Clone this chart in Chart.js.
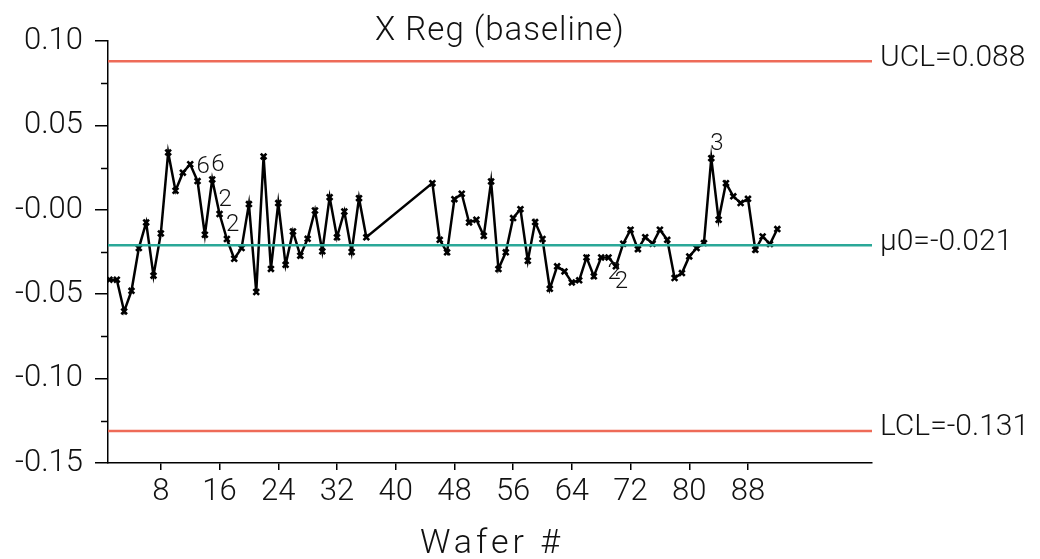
<!DOCTYPE html>
<html>
<head>
<meta charset="utf-8">
<script src="https://cdn.jsdelivr.net/npm/chart.js@4.4.1/dist/chart.umd.min.js"></script>
<style>
  html, body { margin: 0; padding: 0; background: #fff; }
  #wrap { width: 1040px; height: 559px; }
</style>
</head>
<body>
<div id="wrap"><canvas id="chart" width="1040" height="559"></canvas></div>
<script>
// wafer numbers (37-44 are missing in the run)
const wafers = [
  1, 2, 3, 4, 5, 6, 7, 8, 9, 10, 11, 12, 13, 14, 15, 16, 17, 18,
  19, 20, 21, 22, 23, 24, 25, 26, 27, 28, 29, 30, 31, 32, 33, 34, 35, 36,
  45, 46, 47, 48, 49, 50, 51, 52, 53, 54, 55, 56, 57, 58, 59, 60,
  61, 62, 63, 64, 65, 66, 67, 68, 69, 70, 71, 72, 73, 74, 75, 76,
  77, 78, 79, 80, 81, 82, 83, 84, 85, 86, 87, 88, 89, 90, 91, 92
];

// individual measurement per wafer
const xReg = [
  -0.0414, -0.0414, -0.0602, -0.0480, -0.0227, -0.0075, -0.0390, -0.0140, 0.0340, 0.0113,
  0.0220, 0.0270, 0.0170, -0.0148, 0.0180, -0.0025, -0.0173, -0.0290, -0.0227, 0.0034,
  -0.0487, 0.0316, -0.0350, 0.0040, -0.0326, -0.0128, -0.0272, -0.0172, -0.0004, -0.0246,
  0.0075, -0.0163, -0.0010, -0.0250, 0.0069, -0.0163,
  0.0158, -0.0178, -0.0252, 0.0063, 0.0095, -0.0075, -0.0059, -0.0154, 0.0168, -0.0351,
  -0.0252, -0.0049, 0.0004, -0.0302, -0.0073, -0.0173, -0.0468, -0.0335, -0.0365, -0.0430,
  -0.0418, -0.0282, -0.0394, -0.0282, -0.0282, -0.0335, -0.0201, -0.0118, -0.0233, -0.0162,
  -0.0201, -0.0118, -0.0178, -0.0404, -0.0375, -0.0276, -0.0227, -0.0197, 0.0306, -0.0059,
  0.0158, 0.0080, 0.0040, 0.0065, -0.0237, -0.0158, -0.0203, -0.0114
];

// control limits
const ucl = 0.088;
const centerLine = -0.021;
const lcl = -0.131;
const limitValues = [ucl, centerLine, lcl];
const limitLabels = ['UCL=0.088', 'μ0=-0.021', 'LCL=-0.131'];

// flagged tests (wafer -> test number)
const testWafers = [13, 15, 16, 17, 69, 70, 83];
const testCodes = ['6', '6', '2', '2', '2', '2', '3'];

// axis ticks
const xTicks = [8, 16, 24, 32, 40, 48, 56, 64, 72, 80, 88];
const yTicks = [0.10, 0.05, 0, -0.05, -0.10, -0.15];
const yTickLabels = ['0.10', '0.05', '-0.00', '-0.05', '-0.10', '-0.15'];
const yMinorTicks = [0.075, 0.025, -0.025, -0.075, -0.125];

const xMin = 0.8, xMax = 104.9;
const yMin = -0.15, yMax = 0.10;

const FONT = 'Roboto, "Liberation Sans", sans-serif';
const RED = '#ee6b58';
const TEAL = '#2aa898';

function limitLine(v) {
  return [{ x: xMin, y: v }, { x: xMax, y: v }];
}

const points = wafers.map((w, i) => ({ x: w, y: xReg[i] }));

// draws titles, minor ticks, limit labels and test flags
const overlay = {
  id: 'overlay',
  afterDraw(chart) {
    const ctx = chart.ctx;
    const xs = chart.scales.x, ys = chart.scales.y;
    const area = chart.chartArea;
    ctx.save();

    ctx.fillStyle = '#111';
    ctx.textAlign = 'center';
    ctx.textBaseline = 'alphabetic';

    // chart title
    ctx.font = '300 33px ' + FONT;
    ctx.letterSpacing = '1px';
    ctx.fillText('X Reg (baseline)', 500, 40);

    // x axis title
    ctx.font = '300 34px ' + FONT;
    ctx.letterSpacing = '4px';
    ctx.fillText('Wafer #', 492, 553);
    ctx.letterSpacing = '0px';

    // minor y ticks
    ctx.strokeStyle = '#000';
    ctx.lineWidth = 1.5;
    yMinorTicks.forEach(v => {
      const py = Math.round(ys.getPixelForValue(v)) + 0.5;
      ctx.beginPath();
      ctx.moveTo(area.left - 7, py);
      ctx.lineTo(area.left, py);
      ctx.stroke();
    });

    // limit labels
    ctx.font = '300 30px ' + FONT;
    ctx.textAlign = 'left';
    ctx.textBaseline = 'middle';
    limitValues.forEach((v, i) => {
      ctx.fillText(limitLabels[i], area.right + 8, ys.getPixelForValue(v) - 3);
    });

    // test flags
    ctx.font = '300 24px ' + FONT;
    testWafers.forEach((w, i) => {
      const val = xReg[wafers.indexOf(w)];
      const px = xs.getPixelForValue(w);
      const py = ys.getPixelForValue(val);
      const dy = val > centerLine ? -14 : 16;
      ctx.fillText(testCodes[i], px - 1, py + dy);
    });

    ctx.restore();
  }
};

const ctx = document.getElementById('chart').getContext('2d');
new Chart(ctx, {
  type: 'line',
  data: {
    datasets: [
      {
        data: limitLine(ucl),
        borderColor: RED, borderWidth: 2.5, pointRadius: 0
      },
      {
        data: limitLine(lcl),
        borderColor: RED, borderWidth: 2.5, pointRadius: 0
      },
      {
        data: limitLine(centerLine),
        borderColor: TEAL, borderWidth: 2.5, pointRadius: 0
      },
      {
        data: points,
        borderColor: '#000',
        borderWidth: 2.5,
        tension: 0,
        pointStyle: 'crossRot',
        pointRadius: 4,
        pointBorderWidth: 2.6,
        pointBorderColor: '#000',
        pointBackgroundColor: '#000'
      }
    ]
  },
  options: {
    responsive: false,
    animation: false,
    devicePixelRatio: 1,
    layout: { padding: { left: 0, right: 168, top: 41, bottom: 0 } },
    plugins: {
      legend: { display: false },
      title: { display: false },
      tooltip: { enabled: false }
    },
    scales: {
      x: {
        type: 'linear',
        min: xMin,
        max: xMax,
        afterBuildTicks: s => { s.ticks = xTicks.map(v => ({ value: v })); },
        afterFit: s => { s.height = 96; },
        grid: { drawOnChartArea: false, drawTicks: true, tickLength: 7, color: '#000', lineWidth: 1.5 },
        border: { display: true, color: '#000', width: 1.5 },
        ticks: {
          autoSkip: false, maxRotation: 0, padding: 4,
          color: '#111', font: { family: FONT, size: 31, weight: 300 }
        },
        title: { display: false }
      },
      y: {
        min: yMin,
        max: yMax,
        afterBuildTicks: s => { s.ticks = yTicks.map(v => ({ value: v })); },
        afterFit: s => { s.width = 108; },
        grid: { drawOnChartArea: false, drawTicks: true, tickLength: 13, color: '#000', lineWidth: 1.5 },
        border: { display: true, color: '#000', width: 1.5 },
        ticks: {
          padding: 12, color: '#111', font: { family: FONT, size: 31, weight: 300 },
          callback: v => yTickLabels[yTicks.findIndex(t => Math.abs(t - v) < 1e-9)]
        }
      }
    }
  },
  plugins: [overlay]
});
</script>
</body>
</html>
